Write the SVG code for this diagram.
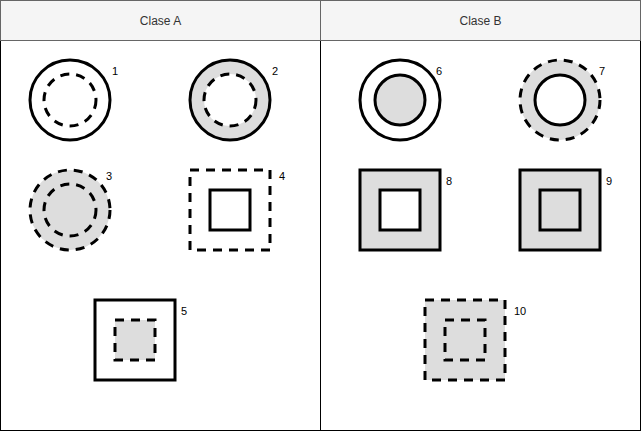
<svg xmlns="http://www.w3.org/2000/svg" width="641" height="432" viewBox="0 0 641 432">
<style>
.hdr{fill:#f5f5f5;stroke:#666666;stroke-width:1}
.body{fill:#ffffff;stroke:#000000;stroke-width:1}
.ht{font-family:"Liberation Sans",Arial,sans-serif;font-size:12px;fill:#333333;text-anchor:middle}
.lbl{font-family:"Liberation Sans",Arial,sans-serif;font-size:11px;fill:#000000}
.s{stroke:#000000;stroke-width:3}
.d{stroke-dasharray:9 7}
.g{fill:#dddddd}
.w{fill:#ffffff}
</style>
<g id="laneA">
<rect class="body" x="0.5" y="40.5" width="320" height="390"/>
<rect class="hdr" x="0.5" y="0.5" width="320" height="40"/>
<text class="ht" x="160.5" y="24.5">Clase A</text>
</g>
<g id="laneB">
<rect class="body" x="320.5" y="40.5" width="320" height="390"/>
<rect class="hdr" x="320.5" y="0.5" width="320" height="40"/>
<text class="ht" x="480.5" y="24.5">Clase B</text>
</g>
<g id="n1">
<circle class="s w" cx="70" cy="100" r="40"/>
<circle class="s w d" cx="70" cy="100" r="26"/>
<text class="lbl" x="112" y="75">1</text>
</g>
<g id="n2">
<circle class="s g" cx="230" cy="100" r="40"/>
<circle class="s w d" cx="230" cy="100" r="26"/>
<text class="lbl" x="272" y="75">2</text>
</g>
<g id="n3">
<circle class="s g d" cx="70" cy="210" r="40"/>
<circle class="s g d" cx="70" cy="210" r="26"/>
<text class="lbl" x="106" y="180">3</text>
</g>
<g id="n4">
<rect class="s w d" x="190" y="170" width="80" height="80"/>
<rect class="s w" x="210" y="190" width="40" height="40"/>
<text class="lbl" x="279" y="180">4</text>
</g>
<g id="n5">
<rect class="s w" x="95" y="300" width="80" height="80"/>
<rect class="s g d" x="115" y="320" width="40" height="40"/>
<text class="lbl" x="181" y="315">5</text>
</g>
<g id="n6">
<circle class="s w" cx="400" cy="100" r="40"/>
<circle class="s g" cx="400" cy="100" r="25"/>
<text class="lbl" x="436" y="75">6</text>
</g>
<g id="n7">
<circle class="s g d" cx="560" cy="100" r="40"/>
<circle class="s w" cx="560" cy="100" r="25"/>
<text class="lbl" x="599" y="75">7</text>
</g>
<g id="n8">
<rect class="s g" x="360" y="170" width="80" height="80"/>
<rect class="s w" x="380" y="190" width="40" height="40"/>
<text class="lbl" x="446" y="185">8</text>
</g>
<g id="n9">
<rect class="s g" x="520" y="170" width="80" height="80"/>
<rect class="s g" x="540" y="190" width="40" height="40"/>
<text class="lbl" x="606" y="185">9</text>
</g>
<g id="n10">
<rect class="s g d" x="425" y="300" width="80" height="80"/>
<rect class="s g d" x="445" y="320" width="40" height="40"/>
<text class="lbl" x="514" y="315">10</text>
</g>
<g id="connectors"></g>
</svg>
